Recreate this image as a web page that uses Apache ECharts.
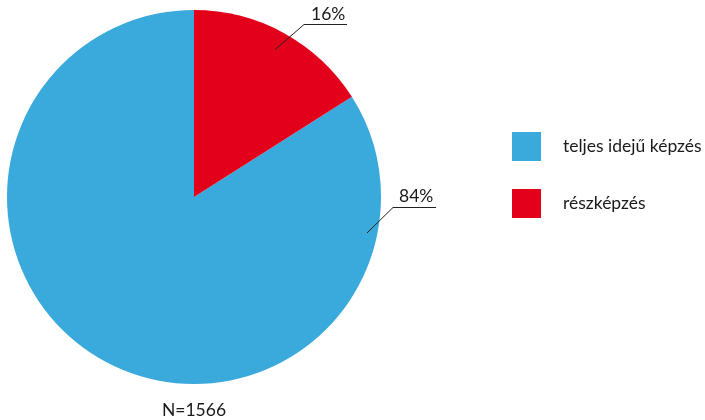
<!DOCTYPE html>
<html>
<head>
<meta charset="utf-8">
<script src="https://cdn.jsdelivr.net/npm/echarts@6/dist/echarts.min.js"></script>
<style>html,body{margin:0;padding:0;background:#fff}#c{width:705px;height:420px}</style>
</head>
<body>
<div id="c"></div>
<script>
const categories = ['teljes idejű képzés', 'részképzés'];
const values = [84, 16];
const colors = ['#3aa9dc', '#e3001b'];
const noteText = 'N=1566';

const CX = 194, CY = 197, R = 187;
const FONT = 'Lato';

function labelGeom(idx) {
  const total = values.reduce((a, b) => a + b, 0);
  if (idx === 1) {
    const ang = (values[1] / 2 / total) * 2 * Math.PI;
    const r0 = 168;
    const p0 = [CX + r0 * Math.sin(ang), CY - r0 * Math.cos(ang)];
    return { pts: [p0, [304, 24.5], [347, 24.5]], x: 311, y: 14 };
  }
  return { pts: [[367, 233], [393, 207.5], [436, 207.5]], x: 399, y: 196 };
}

const pieData = categories.map((n, i) => ({ name: n, value: values[i], itemStyle: { color: colors[i] } }));

const chart = echarts.init(document.getElementById('c'));
chart.setOption({
  animation: false,
  title: {
    text: noteText,
    left: CX, top: 401,
    padding: 0,
    textAlign: 'center',
    textStyle: { fontFamily: FONT, fontSize: 17.5, fontWeight: 'normal', color: '#1a1a1a' }
  },
  legend: {
    orient: 'vertical',
    left: 507, top: 127,
    itemWidth: 29, itemHeight: 29, itemGap: 28,
    icon: 'rect',
    data: categories,
    textStyle: { fontFamily: FONT, fontSize: 17.5, color: '#1a1a1a', padding: [0, 0, 0, 17], overflow: 'none' }
  },
  series: [{
    type: 'pie',
    center: [CX, CY],
    radius: [0, R],
    startAngle: 90,
    clockwise: false,
    label: { show: false },
    labelLine: { show: false },
    emphasis: { disabled: true },
    data: pieData
  }, {
    type: 'pie',
    z: 5,
    silent: true,
    center: [CX, CY],
    radius: [0, R],
    startAngle: 90,
    clockwise: false,
    itemStyle: { color: 'rgba(0,0,0,0)' },
    label: {
      show: true,
      formatter: '{c}%',
      fontFamily: FONT, fontSize: 17.5, color: '#1a1a1a'
    },
    labelLine: { show: true, lineStyle: { color: '#222', width: 1 } },
    labelLayout: function (p) {
      const g = labelGeom(p.dataIndex);
      return { x: g.x, y: g.y, align: 'left', verticalAlign: 'middle', labelLinePoints: g.pts };
    },
    emphasis: { disabled: true },
    data: categories.map((n, i) => ({ name: n, value: values[i] }))
  }]
});
</script>
</body>
</html>
